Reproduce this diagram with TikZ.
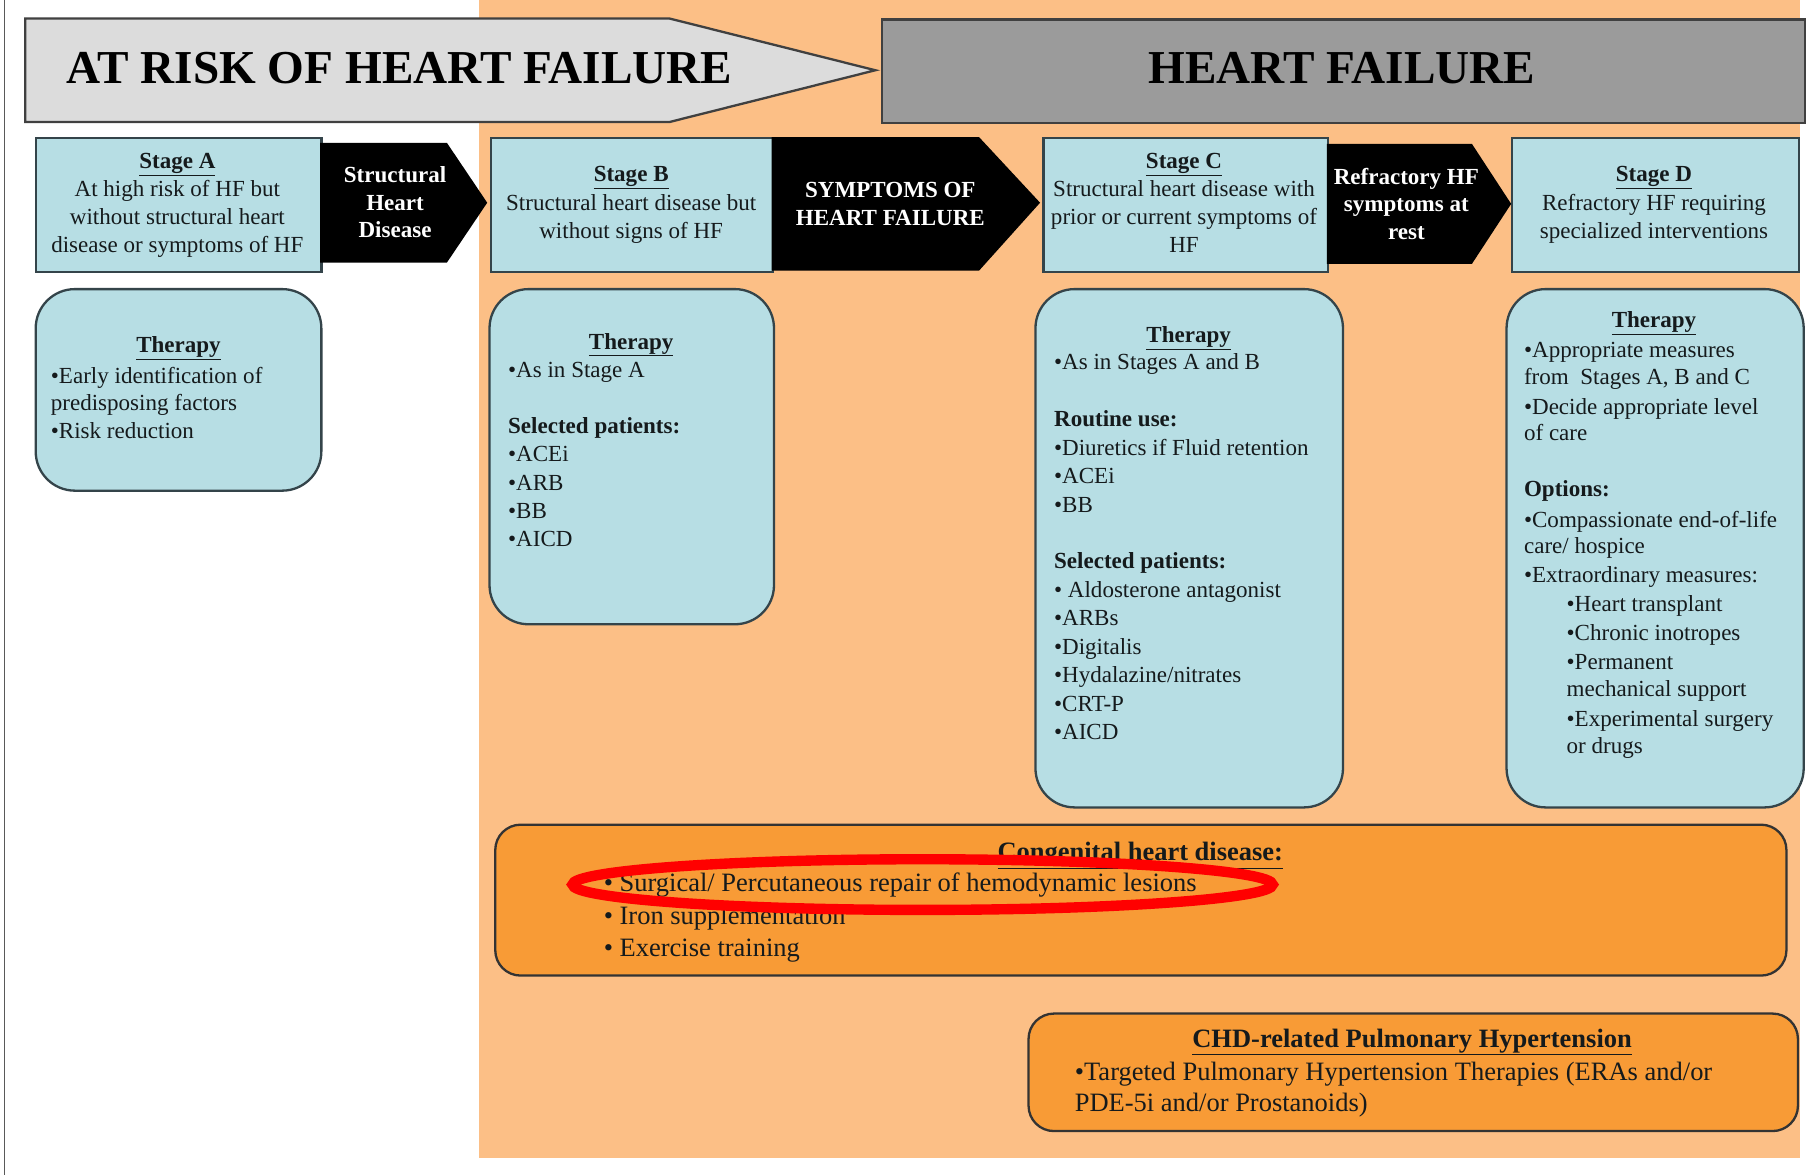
\documentclass[tikz,border=0pt]{standalone}
\usepackage{fontspec}
\setmainfont{Liberation Serif}
\definecolor{peach}{HTML}{FCBF86}
\definecolor{lblue}{HTML}{B7DEE4}
\definecolor{orbox}{HTML}{F89B36}
\definecolor{hfgray}{HTML}{9B9B9B}
\definecolor{lgray}{HTML}{DCDCDC}
\definecolor{bord}{HTML}{34444A}
\definecolor{ink}{HTML}{151A1C}
\begin{document}
\begin{tikzpicture}[x=1pt,y=-1pt,
  stagebox/.style={draw=bord, line width=2pt, fill=lblue, inner sep=0pt, anchor=north west},
  therbox/.style={stagebox, rounded corners=34pt},
  orangebox/.style={draw=black!80, line width=2pt, fill=orbox, inner sep=0pt, anchor=north west, rounded corners=22pt},
  blackarrow/.style={fill=black},
  txt/.style={inner sep=0pt, text=ink, align=center},
  btxt/.style={inner sep=0pt, text=ink, align=left, anchor=north west},
  wtxt/.style={inner sep=0pt, text=white, align=center, font=\fontsize{20}{24}\selectfont\bfseries},
  banner/.style={inner sep=0pt, text=black, font=\fontsize{41}{48}\selectfont\bfseries}
]
\useasboundingbox (0,0) rectangle (1568,1020);
\fill[white] (0,0) rectangle (1568,1020);
\fill[peach] (416,0) rectangle (1563,1005);
\draw[black!65, line width=1.5pt] (4,0) -- (4,1020);

% top banners
\draw[draw=black!75, line width=2pt, fill=lgray] (22,16) -- (581,16) -- (760,61) -- (581,106) -- (22,106) -- cycle;
\node[banner] (risk) at (347,59) {AT RISK OF HEART FAILURE};
\node[draw=black!75, line width=2pt, fill=hfgray, inner sep=0pt, anchor=north west, minimum width=801pt, minimum height=90pt] (hfbox) at (765,16) {};
\node[banner] (hf) at (1165,59) {HEART FAILURE};

% stage boxes
\node[stagebox, minimum width=248pt, minimum height=116pt] (sA) at (30,119) {};
\node[stagebox, minimum width=245pt, minimum height=116pt] (sB) at (425,119) {};
\node[stagebox, minimum width=247pt, minimum height=116pt] (sC) at (905,119) {};
\node[stagebox, minimum width=249pt, minimum height=116pt] (sD) at (1312,119) {};

% black arrows
\fill[blackarrow] (278,124) -- (388,124) -- (423,176) -- (388,228) -- (278,228) -- cycle;
\fill[blackarrow] (670,119) -- (850,119) -- (903,176) -- (850,235) -- (670,235) -- cycle;
\fill[blackarrow] (1152,125) -- (1278,125) -- (1312,177) -- (1278,229) -- (1152,229) -- cycle;
\node[wtxt] (a1) at (343,175.5) {Structural\\Heart\\Disease};
\node[wtxt] (a2) at (773,177) {SYMPTOMS OF\\HEART FAILURE};
\node[wtxt] (a3) at (1221,177) {Refractory HF\\symptoms at\\rest};

% stage texts
\node[txt, anchor=north, font=\fontsize{20}{24.5}\selectfont] (tA) at (154,132.5)
  {\underline{\textbf{Stage A}}\\At high risk of HF but\\without structural heart\\disease or symptoms of HF};
\node[txt, anchor=north, font=\fontsize{20}{24.5}\selectfont] (tB) at (548,144.5)
  {\underline{\textbf{Stage B}}\\Structural heart disease but\\without signs of HF};
\node[txt, anchor=north, font=\fontsize{20}{24.5}\selectfont] (tC) at (1028,132.5)
  {\underline{\textbf{Stage C}}\\Structural heart disease with\\prior or current symptoms of\\HF};
\node[txt, anchor=north, font=\fontsize{20}{24.5}\selectfont] (tD) at (1436,144.5)
  {\underline{\textbf{Stage D}}\\Refractory HF requiring\\specialized interventions};

% therapy boxes
\node[therbox, minimum width=248pt, minimum height=175pt] (thA) at (30,250) {};
\node[therbox, minimum width=247pt, minimum height=291pt] (thB) at (424,250) {};
\node[therbox, minimum width=267pt, minimum height=450pt] (thC) at (898,250) {};
\node[therbox, minimum width=258pt, minimum height=450pt] (thD) at (1307,250) {};

\node[txt, anchor=north, font=\fontsize{20}{24}\selectfont] (hA) at (155,292) {\underline{\textbf{Therapy}}};
\node[btxt, font=\fontsize{20}{23.5}\selectfont] (bA) at (44,319)
  {•Early identification of\\predisposing factors\\•Risk reduction};

\node[txt, anchor=north, font=\fontsize{20}{24}\selectfont] (hB) at (548,289) {\underline{\textbf{Therapy}}};
\node[btxt, font=\fontsize{20}{24.5}\selectfont] (bB) at (441,314)
  {•As in Stage A\\[24.5pt]\textbf{Selected patients:}\\•ACEi\\•ARB\\•BB\\•AICD};

\node[txt, anchor=north, font=\fontsize{20}{24}\selectfont] (hC) at (1032,283) {\underline{\textbf{Therapy}}};
\node[btxt, font=\fontsize{20}{24.7}\selectfont] (bC) at (915,307)
  {•As in Stages A and B\\[24.7pt]\textbf{Routine use:}\\•Diuretics if Fluid retention\\•ACEi\\•BB\\[24.7pt]%
   \textbf{Selected patients:}\\• Aldosterone antagonist\\•ARBs\\•Digitalis\\•Hydalazine/nitrates\\•CRT-P\\•AICD};

\node[txt, anchor=north, font=\fontsize{20}{24}\selectfont] (hD) at (1436,270) {\underline{\textbf{Therapy}}};
\node[btxt, font=\fontsize{20}{23}\selectfont] (bD) at (1323,297)
  {•Appropriate measures\\from~ Stages A, B and C\\[3pt]•Decide appropriate level\\of care\\[26pt]%
   \textbf{Options:}\\[3.5pt]•Compassionate end-of-life\\care/ hospice\\[2pt]•Extraordinary measures:\\[2pt]%
   \hspace*{37pt}•Heart transplant\\[2pt]\hspace*{37pt}•Chronic inotropes\\[2.5pt]\hspace*{37pt}•Permanent\\%
   \hspace*{37pt}mechanical support\\[3.5pt]\hspace*{37pt}•Experimental surgery\\\hspace*{37pt}or drugs};

% congenital box
\node[orangebox, minimum width=1121pt, minimum height=131pt] (chd) at (429,715) {};
\node[txt, anchor=north, font=\fontsize{23}{27.5}\selectfont] (chdT) at (990,731) {\underline{\textbf{Congenital heart disease:}}};
\node[btxt, font=\fontsize{23}{28}\selectfont] (chdB) at (524,758)
  {• Surgical/ Percutaneous repair of hemodynamic lesions\\• Iron supplementation\\• Exercise training};

% CHD-PH box
\node[orangebox, minimum width=668pt, minimum height=102pt] (ph) at (892,879) {};
\node[txt, anchor=north, font=\fontsize{23}{26}\selectfont] (phT) at (1226,893) {\underline{\textbf{CHD-related Pulmonary Hypertension}}};
\node[btxt, font=\fontsize{23}{26.5}\selectfont] (phB) at (933,922)
  {•Targeted Pulmonary Hypertension Therapies (ERAs and/or\\PDE-5i and/or Prostanoids)};

% red ellipse highlight
\draw[red, line width=9pt] (801,768) ellipse [x radius=304pt, y radius=22pt];
\end{tikzpicture}
\end{document}
